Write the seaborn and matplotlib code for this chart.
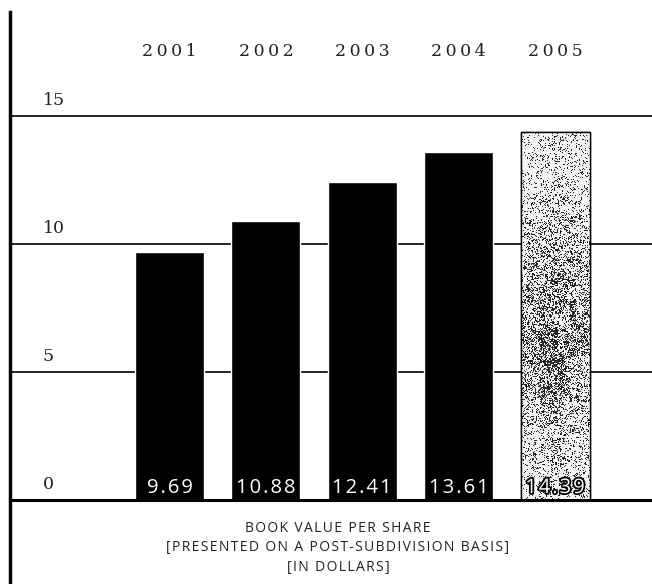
import numpy as np
import pandas as pd
import matplotlib
matplotlib.use("Agg")
import matplotlib.pyplot as plt
import matplotlib.patheffects as pe
import seaborn as sns

# Book value per share, in dollars
years = ["2001", "2002", "2003", "2004", "2005"]
book_value = [9.69, 10.88, 12.41, 13.61, 14.39]
y_ticks = [0, 5, 10, 15]
caption = [
    "BOOK VALUE PER SHARE",
    "[PRESENTED ON A POST-SUBDIVISION BASIS]",
    "[IN DOLLARS]",
]

sns.set_theme(style="white")
plt.rcParams["font.family"] = ["DejaVu Sans"]

W, H, DPI = 652, 584, 100
PX_PER_UNIT = 25.6          # vertical pixels per dollar
LEFT_PX, TOP_PX, BASE_PX = 9.5, 12, 500
STEP_PX, FIRST_PX = 96.4, 169.5
SANS = ["Open Sans", "DejaVu Sans"]


def spaced(s, gap="\u200a"):
    """Open up the tracking of a label with hair spaces."""
    return gap.join(s)


fig = plt.figure(figsize=(W / DPI, H / DPI), dpi=DPI)
ax = fig.add_axes([LEFT_PX / W, 0, 1 - LEFT_PX / W, 1 - TOP_PX / H])

df = pd.DataFrame({"year": years, "value": book_value})
sns.barplot(data=df, x="year", y="value", color="black", width=0.716,
            saturation=1, ax=ax, zorder=2)

ax.set_ylim(-(H - BASE_PX) / PX_PER_UNIT, (BASE_PX - TOP_PX) / PX_PER_UNIT)
ax_w = W - LEFT_PX
ax.set_xlim(-(FIRST_PX - LEFT_PX) / STEP_PX, (W - FIRST_PX) / STEP_PX)

for s in ["top", "right", "bottom"]:
    ax.spines[s].set_visible(False)
ax.spines["left"].set_color("black")
ax.spines["left"].set_linewidth(2.5)
ax.set_xticks([])
ax.set_yticks([])
ax.set_xlabel("")
ax.set_ylabel("")

# horizontal rules behind the bars, heavier baseline in front
for t in y_ticks[1:]:
    ax.axhline(t, color="black", lw=1.2, zorder=0)
ax.axhline(0, color="black", lw=2.2, zorder=4)

# value-axis labels sitting just above each rule
ytr = ax.get_yaxis_transform()
for t in y_ticks:
    ax.text((43 - LEFT_PX) / ax_w, t + 7 / PX_PER_UNIT, str(t),
            transform=ytr, ha="left", va="bottom",
            fontsize=12.5, family="DejaVu Serif", color="#222222")

# spaced year labels across the top
for i, yr in enumerate(years):
    ax.text(i, (BASE_PX - 52) / PX_PER_UNIT, "\u2009".join(yr),
            ha="center", va="center", fontsize=12.5,
            family="DejaVu Serif", color="#222222")

# stippled highlight for the latest year
bars = ax.patches
last = bars[-1]
last.set_facecolor("white")
last.set_edgecolor("black")
last.set_linewidth(1.0)
bx, bw, bh = last.get_x(), last.get_width(), last.get_height()
rows, cols = int(bh * PX_PER_UNIT), int(bw * STEP_PX)
rng = np.random.default_rng(11)
vert = np.linspace(0, 1, rows)[:, None]
density = 0.16 + 0.38 * np.exp(-((vert - 0.55) / 0.27) ** 2)
horiz = np.linspace(-1, 1, cols)[None, :]
density = density * (1.0 - 0.40 * np.abs(horiz))
# lumpy grain: modulate the speck density with a coarse random field
coarse = rng.random((rows // 6 + 1, cols // 6 + 1))
coarse = np.kron(coarse, np.ones((6, 6)))[:rows, :cols]
density = density * (0.5 + 1.0 * coarse)
speck = (rng.random((rows, cols)) < density).astype(float)
tone = 1.0 - 0.8 * speck - 0.10 * rng.random((rows, cols))
img = ax.imshow(tone, cmap="gray", vmin=0, vmax=1, aspect="auto",
                interpolation="nearest", extent=(bx, bx + bw, 0, bh),
                zorder=2.5)
img.set_clip_path(last)
frame = plt.Rectangle((bx, 0), bw, bh, fill=False, edgecolor="black",
                      lw=1.0, zorder=3)
ax.add_patch(frame)

# values inside the bars
for i, v in enumerate(book_value):
    kw = dict(ha="center", va="baseline", fontsize=14.5,
              family=SANS, color="white", zorder=5)
    if i == len(book_value) - 1:
        kw["path_effects"] = [pe.withStroke(linewidth=2.6, foreground="black")]
    ax.text(i, 7 / PX_PER_UNIT, spaced(f"{v:.2f}"), **kw)

# caption beneath the baseline
for k, line in enumerate(caption):
    fig.text(338 / W, 1 - (528 + 19.5 * k) / H, spaced(line), ha="center",
             va="center", fontsize=10, family=SANS, color="#222222")

fig.savefig("out.png", dpi=DPI)
